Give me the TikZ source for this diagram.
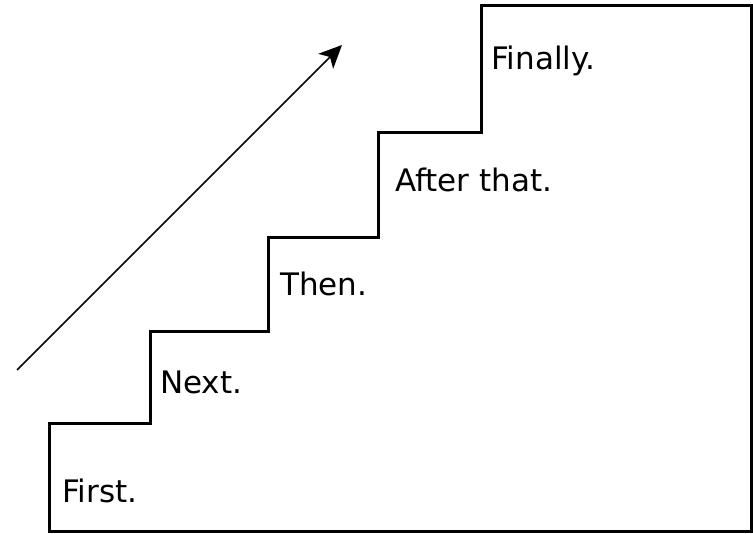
\documentclass[tikz,border=0pt]{standalone}
\usepackage{fontspec}
\setmainfont{DejaVu Sans}
\usetikzlibrary{arrows.meta}
\begin{document}
\begin{tikzpicture}[x=1pt,y=-1pt,
  stairs/.style={line width=3pt,line join=miter},
  steplabel/.style={anchor=base west,inner sep=0pt,font=\fontsize{31}{36}\selectfont},
  rise/.style={line width=1.5pt,-{Stealth[length=23pt,width=21pt,inset=6pt]}}]
  \useasboundingbox (0,0) rectangle (753,534);
  % staircase outline
  \draw[stairs] (49,424) -- (150,424) -- (150,332) -- (268,332) -- (268,238)
    -- (378,238) -- (378,133) -- (481,133) -- (481,6) -- (751,6)
    -- (751,532) -- (49,532) -- cycle;
  % step labels
  \node[steplabel] (first) at (62,503) {First.};
  \node[steplabel] (next) at (160,394) {Next.};
  \node[steplabel] (then) at (280,296) {Then.};
  \node[steplabel] (after) at (395,192) {After that.};
  \node[steplabel] (final) at (491,70) {Finally.};
  % upward arrow
  \coordinate (up0) at (17,370);
  \coordinate (up1) at (342,45);
  \draw[rise] (up0) -- (up1);
\end{tikzpicture}
\end{document}
